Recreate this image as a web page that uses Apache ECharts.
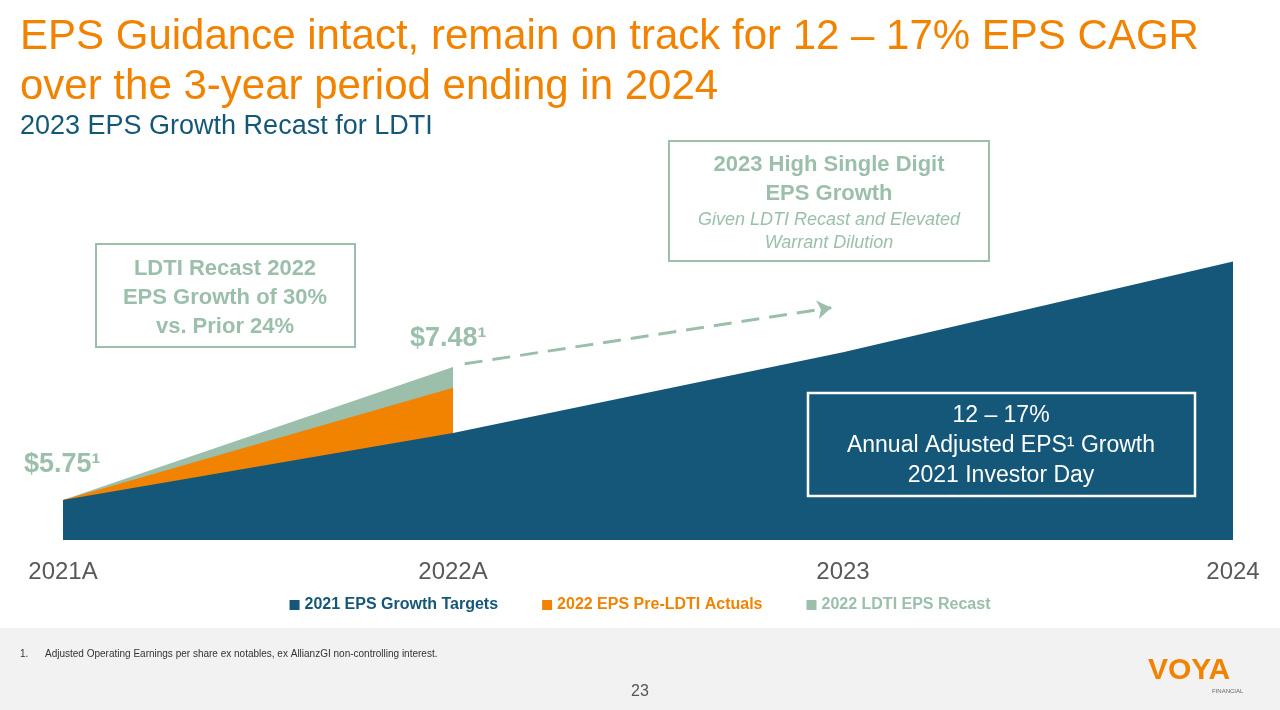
<!DOCTYPE html>
<html><head><meta charset="utf-8">
<script src="https://cdn.jsdelivr.net/npm/echarts@6/dist/echarts.min.js"></script>
<style>html,body{margin:0;padding:0;background:#fff}#main{width:1280px;height:710px}</style>
</head><body><div id="main"></div>
<script>
// categories and EPS values
const categories = ["2021A", "2022A", "2023", "2024"];
const targets2021 = [5.75, 6.62, 7.67, 8.85];
const preLdti2022 = [5.75, 7.21, null, null];
const ldtiRecast2022 = [5.75, 7.48, null, null];
const arrowPts = [[1.03, 7.52], [1.97, 8.25]];

const blue = "#145778", orange = "#F28300", green = "#9BBFAA", gray = "#595959";
const toPts = arr => arr.map((v, i) => [i, v]);

const chart = echarts.init(document.getElementById("main"));
const font = "Arial, Liberation Sans, sans-serif";

const graphics = [
  { type: "text", left: 20, top: 12, style: { text: "EPS Guidance intact, remain on track for 12 – 17% EPS CAGR\nover the 3-year period ending in 2024", fill: orange, font: "42px " + font, lineHeight: 50 } },
  { type: "text", left: 20, top: 113, style: { text: "2023 EPS Growth Recast for LDTI", fill: blue, font: "27px " + font } },
  // LDTI box
  { type: "rect", shape: { x: 96, y: 244, width: 259, height: 103 }, style: { fill: "#fff", stroke: green, lineWidth: 2 } },
  { type: "text", x: 225, y: 254, style: { text: "LDTI Recast 2022\nEPS Growth of 30%\nvs. Prior 24%", fill: green, font: "bold 22px " + font, align: "center", lineHeight: 29 } },
  // 2023 box
  { type: "rect", shape: { x: 669, y: 141, width: 320, height: 120 }, style: { fill: "#fff", stroke: green, lineWidth: 2 } },
  { type: "text", x: 829, y: 150, style: { text: "2023 High Single Digit\nEPS Growth", fill: green, font: "bold 22px " + font, align: "center", lineHeight: 29 } },
  { type: "text", x: 829, y: 208, style: { text: "Given LDTI Recast and Elevated\nWarrant Dilution", fill: green, font: "italic 18px " + font, align: "center", lineHeight: 23 } },
  // Investor day box
  { type: "rect", shape: { x: 808, y: 393, width: 387, height: 103 }, style: { fill: blue, stroke: "#fff", lineWidth: 2.5 } },
  { type: "text", x: 1001, y: 401, style: { text: "12 – 17%\nAnnual Adjusted EPS¹ Growth\n2021 Investor Day", fill: "#fff", font: "23px " + font, align: "center", lineHeight: 30 } },
  // price labels
  { type: "text", left: 24, top: 451, style: { text: "$5.75¹", fill: green, font: "bold 27px " + font } },
  { type: "text", left: 410, top: 325, style: { text: "$7.48¹", fill: green, font: "bold 27px " + font } },
  // footer
  { type: "rect", shape: { x: 0, y: 628, width: 1280, height: 82 }, style: { fill: "#F2F2F2" } },
  { type: "text", left: 20, top: 649, style: { text: "1.      Adjusted Operating Earnings per share ex notables, ex AllianzGI non-controlling interest.", fill: "#333", font: "10px " + font } },
  { type: "text", x: 640, y: 684, style: { text: "23", fill: "#555", font: "16px " + font, align: "center" } },
  { type: "text", left: 1148, top: 656, style: { text: "VOYA", fill: orange, font: "bold 30px " + font } },
  { type: "text", left: 1212, top: 688, style: { text: "FINANCIAL", fill: "#666", font: "6px " + font } }
].map(g => Object.assign({ z: 100 }, g));

chart.setOption({
  animation: false,
  textStyle: { fontFamily: font },
  grid: { left: 63, right: 47, top: 140, height: 400 },
  xAxis: {
    type: "value", min: 0, max: 3, interval: 1,
    axisLine: { show: false }, axisTick: { show: false }, splitLine: { show: false },
    axisLabel: { color: gray, fontSize: 24, margin: 20, formatter: v => categories[v] || "" }
  },
  yAxis: { type: "value", min: 5.23, max: 10.43, show: false },
  legend: {
    bottom: 92, left: "center", itemGap: 44, icon: "rect", itemWidth: 10, itemHeight: 10,
    data: [
      { name: "2021 EPS Growth Targets", textStyle: { color: blue } },
      { name: "2022 EPS Pre-LDTI Actuals", textStyle: { color: orange } },
      { name: "2022 LDTI EPS Recast", textStyle: { color: green } }
    ],
    textStyle: { fontSize: 16, fontWeight: "bold" }
  },
  series: [
    { name: "2022 LDTI EPS Recast", type: "line", data: toPts(ldtiRecast2022), symbol: "none",
      lineStyle: { width: 0 }, itemStyle: { color: green }, areaStyle: { color: green, opacity: 1 },
      markLine: { silent: true, symbol: ["none", "arrow"], symbolSize: 14, label: { show: false },
        lineStyle: { color: green, type: [18, 10], width: 3 },
        data: [[{ coord: arrowPts[0] }, { coord: arrowPts[1] }]] } },
    { name: "2022 EPS Pre-LDTI Actuals", type: "line", data: toPts(preLdti2022), symbol: "none",
      lineStyle: { width: 0 }, itemStyle: { color: orange }, areaStyle: { color: orange, opacity: 1 } },
    { name: "2021 EPS Growth Targets", type: "line", data: toPts(targets2021), symbol: "none",
      lineStyle: { width: 0 }, itemStyle: { color: blue }, areaStyle: { color: blue, opacity: 1 } }
  ],
  graphic: graphics
});
</script></body></html>
